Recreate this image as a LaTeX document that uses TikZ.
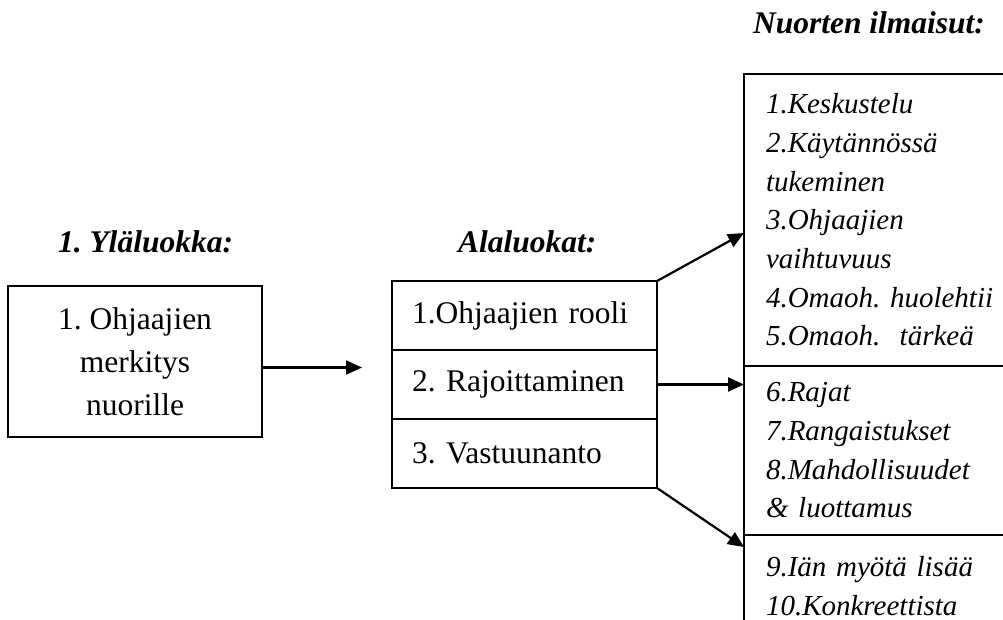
\documentclass[tikz,border=0pt]{standalone}
\usepackage{fontspec}
\setmainfont{Liberation Serif}
\usetikzlibrary{positioning,arrows.meta}

\begin{document}
\frenchspacing
\begin{tikzpicture}[x=1pt,y=-1pt,
    every node/.style={outer sep=0pt},
    box/.style={draw,line width=1.9pt,rectangle},
    head/.style={font=\fontsize{31.5}{38}\selectfont\bfseries\itshape,anchor=base west,inner sep=0pt},
    cat/.style={box,font=\fontsize{31.5}{43}\selectfont,align=left,text width=225pt,inner xsep=20pt,minimum height=69pt},
    say/.style={box,font=\fontsize{29}{38.7}\selectfont\itshape,align=left,text width=240pt,inner xsep=22pt},
    arr/.style={line width=2.2pt,-{Triangle[length=16pt,width=14pt]}}]
  \clip (0,0) rectangle (1003,619);
  % otsikot
  \node[head] (hyla) at (58,252) {1. Yläluokka:};
  \node[head] (hala) at (458,252) {Alaluokat:};
  \node[head] (hnuo) at (753,33) {Nuorten ilmaisut:};
  % yläluokka
  \node[box,font=\fontsize{31.5}{43}\selectfont,align=center,minimum width=254pt,minimum height=151pt] (ylä) at (135,361.5)
    {1. Ohjaajien\\merkitys\\nuorille};
  % alaluokat
  \node[cat,anchor=north west] (ala1) at (392,281) {1.Ohjaajien rooli};
  \node[cat,below=0pt of ala1] (ala2) {2. Rajoittaminen};
  \node[cat,below=0pt of ala2] (ala3) {3. Vastuunanto};
  % ilmaisut
  \node[say,anchor=north west,minimum height=292pt] (nuo1) at (744,74)
    {1.Keskustelu\\2.Käytännössä\\tukeminen\\3.Ohjaajien\\vaihtuvuus\\4.Omaoh. huolehtii\\5.Omaoh.\ \ tärkeä};
  \node[say,below=0pt of nuo1,minimum height=169pt] (nuo2)
    {6.Rajat\\7.Rangaistukset\\8.Mahdollisuudet\\\& luottamus};
  \node[say,below=0pt of nuo2,minimum height=102pt] (nuo3)
    {9.Iän myötä lisää\\10.Konkreettista};
  % nuolet
  \draw[arr] ([yshift=-6pt]ylä.east) -- ++(100,0);
  \draw[arr] (ala1.north east) -- ([yshift=-159pt]nuo1.north west);
  \draw[arr] (ala2.east) -- (ala2.east -| nuo2.west);
  \draw[arr] (ala3.south east) -- ([yshift=-12pt]nuo3.north west);
\end{tikzpicture}
\end{document}
